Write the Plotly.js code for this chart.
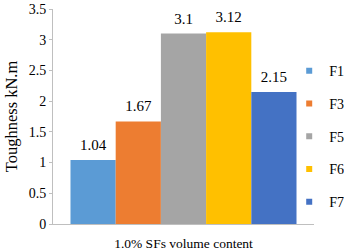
<!DOCTYPE html>
<html>
<head>
<meta charset="utf-8">
<script src="https://cdn.plot.ly/plotly-3.0.1.min.js"></script>
<style>html,body{margin:0;padding:0;background:#fff;}#chart{width:344px;height:252px;}</style>
</head>
<body>
<div id="chart"></div>
<script>
const categories = ['1.0% SFs volume content'];
const seriesNames = ['F1', 'F3', 'F5', 'F6', 'F7'];
const seriesValues = [1.04, 1.67, 3.1, 3.12, 2.15];
const seriesColors = ['#5B9BD5', '#ED7D31', '#A5A5A5', '#FFC000', '#4472C4'];
const yTickVals = [0, 0.5, 1, 1.5, 2, 2.5, 3, 3.5];
const yTickText = ['0', '0.5', '1', '1.5', '2', '2.5', '3', '3.5'];

const FONT = 'Liberation Serif, Times New Roman, serif';
const GAP = 0.134;
const traces = [];
seriesNames.forEach((name, i) => {
  traces.push({
    type: 'bar', name: name, x: categories, y: [seriesValues[i]],
    offsetgroup: name,
    marker: {color: seriesColors[i], line: {width: 0}},
    showlegend: false, hoverinfo: 'skip'
  });
});
seriesNames.forEach((name, i) => {
  traces.push({
    type: 'scatter', mode: 'markers+text', name: name + ' label', x: categories, y: [seriesValues[i]],
    offsetgroup: name,
    marker: {size: 8.4, opacity: 0, color: seriesColors[i]},
    text: [String(seriesValues[i])], textposition: 'top center', cliponaxis: false,
    textfont: {family: FONT, size: 15, color: '#000'},
    showlegend: false, hoverinfo: 'skip'
  });
});
seriesNames.forEach((name, i) => {
  traces.push({
    type: 'scatter', mode: 'markers', name: name, x: [null], y: [null],
    offsetgroup: name,
    marker: {symbol: 'square', size: 6, color: seriesColors[i]},
    legendgroup: name, showlegend: true, hoverinfo: 'skip'
  });
});

const layout = {
  width: 344, height: 252,
  margin: {l: 53, r: 30, t: 8.5, b: 28, autoexpand: false},
  paper_bgcolor: '#fff', plot_bgcolor: '#fff',
  font: {family: FONT, size: 14, color: '#000'},
  barmode: 'group', bargap: GAP, bargroupgap: 0,
  scattermode: 'group', scattergap: GAP,
  showlegend: true,
  legend: {x: 0.905, xanchor: 'left', y: 0.785, yanchor: 'top', tracegroupgap: 11.5,
           font: {family: FONT, size: 14, color: '#000'}, bgcolor: 'rgba(0,0,0,0)'},
  xaxis: {showline: true, linecolor: '#BFBFBF', linewidth: 1, ticks: '', showgrid: false,
          zeroline: false, tickfont: {family: FONT, size: 13.5}, ticklabelstandoff: 7},
  yaxis: {range: [0, 3.5], tickvals: yTickVals, ticktext: yTickText, showline: true,
          linecolor: '#BFBFBF', linewidth: 1, ticks: 'outside', ticklen: 3, tickcolor: '#BFBFBF',
          showgrid: false, zeroline: false, tickfont: {family: FONT, size: 14},
          title: {text: 'Toughness kN.m', font: {family: FONT, size: 16.5}, standoff: 6}}
};
Plotly.newPlot('chart', traces, layout, {displayModeBar: false, staticPlot: true});
</script>
</body>
</html>
